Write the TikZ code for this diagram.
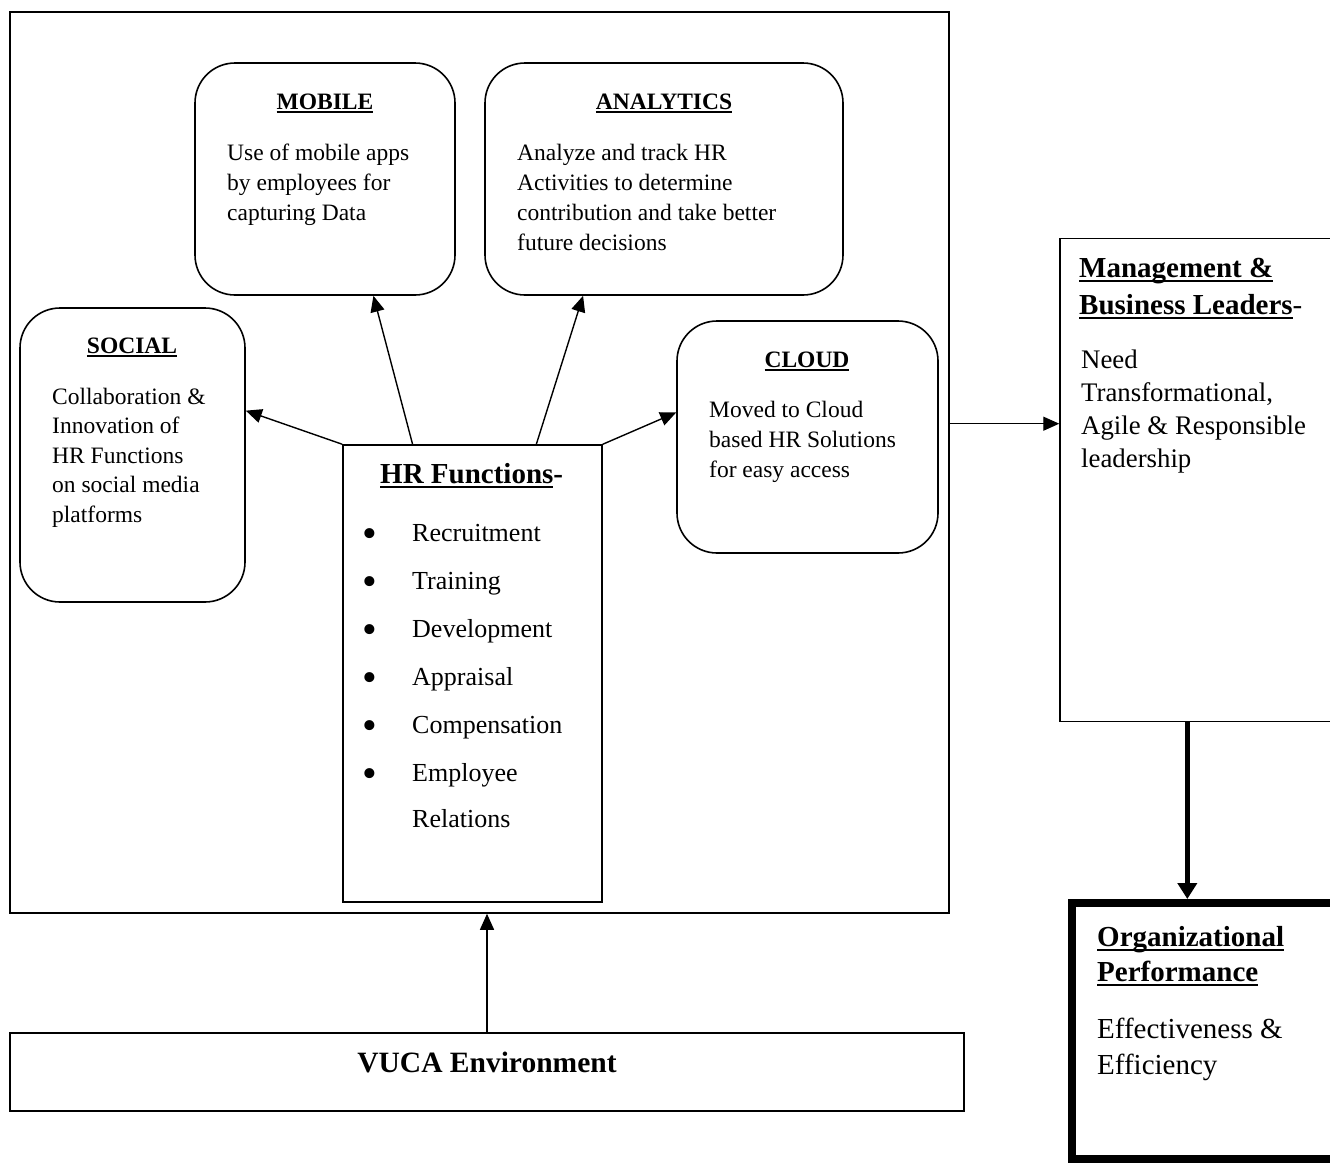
\documentclass[tikz,border=0pt]{standalone}
\usepackage{fontspec}
\setmainfont{Liberation Serif}
\usetikzlibrary{arrows.meta,calc}
\newcommand\ulx[1]{\setbox0\hbox{#1}\rlap{\rule[-0.17em]{\wd0}{0.07em}}\box0}
\newcommand\fsmall{\fontsize{23.5}{28}\selectfont}
\newcommand\fmid{\fontsize{26}{30}\selectfont}
\newcommand\fbig{\fontsize{26.8}{30}\selectfont}
\newcommand\forg{\fontsize{29}{32}\selectfont}
\newcommand\fhead{\fontsize{29}{32}\selectfont\bfseries}
\newcommand\fbul{\fontsize{42}{42}\selectfont}
\tikzset{
  lbl/.style={inner sep=0pt, anchor=base west},
  ttl/.style={inner sep=0pt, anchor=base},
  bul/.style={inner sep=0pt, anchor=center, font=\fbul},
  frame/.style={draw, line width=1.5pt, inner sep=0pt},
  rbox/.style={draw, line width=1.6pt, rounded corners=40pt, inner sep=0pt},
  arr/.style={line width=1.4pt, -{Triangle[length=16pt,width=14pt]}},
  thickarr/.style={line width=5pt, -{Triangle[length=16pt,width=19pt]}},
}
\begin{document}
\begin{tikzpicture}[x=1pt,y=-1pt]
\useasboundingbox (0,0) rectangle (1330,1165);
\fill[white] (0,0) rectangle (1330,1165);

% boxes
\node[frame, minimum width=939pt, minimum height=901pt] (outer) at (479.5,462.5) {};
\node[rbox, minimum width=260pt, minimum height=232pt] (mobile) at (325,179) {};
\node[rbox, minimum width=358pt, minimum height=232pt] (analytics) at (664,179) {};
\node[rbox, minimum width=225pt, minimum height=294pt] (social) at (132.5,455) {};
\node[rbox, minimum width=261pt, minimum height=232pt] (cloud) at (807.5,437) {};
\node[frame, minimum width=259pt, minimum height=457pt] (hr) at (472.5,673.5) {};
\node[frame, minimum width=285pt, minimum height=483pt] (mgmt) at (1202.5,480) {};
\node[draw, line width=8pt, inner sep=0pt, minimum width=290pt, minimum height=256pt] (org) at (1217,1031) {};
\node[frame, minimum width=954pt, minimum height=78pt] (vuca) at (487,1072) {};

% MOBILE
\node[ttl, font=\fsmall\bfseries] (mobT) at (325,109) {\ulx{MOBILE}};
\node[lbl, font=\fsmall] (mob1) at (227,160) {Use of mobile apps};
\node[lbl, font=\fsmall] (mob2) at (227,190) {by employees for};
\node[lbl, font=\fsmall] (mob3) at (227,220) {capturing Data};

% ANALYTICS
\node[ttl, font=\fsmall\bfseries] (anaT) at (664,109) {\ulx{ANALYTICS}};
\node[lbl, font=\fsmall] (ana1) at (517,160) {Analyze and track HR};
\node[lbl, font=\fsmall] (ana2) at (517,190) {Activities to determine};
\node[lbl, font=\fsmall] (ana3) at (517,220) {contribution and take better};
\node[lbl, font=\fsmall] (ana4) at (517,250) {future decisions};

% SOCIAL
\node[ttl, font=\fsmall\bfseries] (socT) at (132,353) {\ulx{SOCIAL}};
\node[lbl, font=\fsmall] (soc1) at (52,404) {Collaboration \&};
\node[lbl, font=\fsmall] (soc2) at (52,433.5) {Innovation of};
\node[lbl, font=\fsmall] (soc3) at (52,463) {HR Functions};
\node[lbl, font=\fsmall] (soc4) at (52,492.5) {on social media};
\node[lbl, font=\fsmall] (soc5) at (52,522) {platforms};

% CLOUD
\node[ttl, font=\fsmall\bfseries] (cloT) at (807,367) {\ulx{CLOUD}};
\node[lbl, font=\fsmall] (clo1) at (709,417) {Moved to Cloud};
\node[lbl, font=\fsmall] (clo2) at (709,447) {based HR Solutions};
\node[lbl, font=\fsmall] (clo3) at (709,477) {for easy access};

% HR Functions
\node[lbl, font=\fhead] (hrT) at (380,483) {\ulx{HR Functions}-};
\node[bul] (b1) at (370,538) {\textbullet};
\node[bul] (b2) at (370,586) {\textbullet};
\node[bul] (b3) at (370,634) {\textbullet};
\node[bul] (b4) at (370,682) {\textbullet};
\node[bul] (b5) at (370,730) {\textbullet};
\node[bul] (b6) at (370,778) {\textbullet};
\node[lbl, font=\fmid] (hr1) at (412,541) {Recruitment};
\node[lbl, font=\fmid] (hr2) at (412,589) {Training};
\node[lbl, font=\fmid] (hr3) at (412,637) {Development};
\node[lbl, font=\fmid] (hr4) at (412,685) {Appraisal};
\node[lbl, font=\fmid] (hr5) at (412,733) {Compensation};
\node[lbl, font=\fmid] (hr6) at (412,781) {Employee};
\node[lbl, font=\fmid] (hr7) at (412,827) {Relations};

% Management
\node[lbl, font=\fhead] (mgT1) at (1079,277) {\ulx{Management \&}};
\node[lbl, font=\fhead] (mgT2) at (1079,314) {\ulx{Business Leaders}{\mdseries-}};
\node[lbl, font=\fbig] (mg1) at (1081,368) {Need};
\node[lbl, font=\fbig] (mg2) at (1081,401) {Transformational,};
\node[lbl, font=\fbig] (mg3) at (1081,434) {Agile \& Responsible};
\node[lbl, font=\fbig] (mg4) at (1081,467) {leadership};

% Organizational Performance
\node[lbl, font=\fhead] (orT1) at (1097,946) {\ulx{Organizational}};
\node[lbl, font=\fhead] (orT2) at (1097,981) {\ulx{Performance}};
\node[lbl, font=\forg] (or1) at (1097,1038) {Effectiveness \&};
\node[lbl, font=\forg] (or2) at (1097,1074) {Efficiency};

% VUCA
\node[ttl, font=\fontsize{29.5}{32}\selectfont\bfseries] (vucaT) at (487,1072) {VUCA Environment};

% connectors
\draw[arr] (hr.north west) -- ($(social.north east)!0.35!(social.south east)$);
\draw[arr] ($(hr.north west)!0.27!(hr.north east)$) -- ($(mobile.south west)!0.685!(mobile.south east)$);
\draw[arr] ($(hr.north west)!0.745!(hr.north east)$) -- ($(analytics.south west)!0.275!(analytics.south east)$);
\draw[arr] (hr.north east) -- ($(cloud.north west)!0.395!(cloud.south west)$);
\draw[arr] ($(outer.north east)!0.457!(outer.south east)$) coordinate (oe) -- (oe -| mgmt.west);
\draw[arr] (vuca.north) -- (vuca.north |- outer.south);
\draw[thickarr] ($(mgmt.south west)!0.447!(mgmt.south east)$) coordinate (ms) -- (ms |- org.north);
\end{tikzpicture}
\end{document}
